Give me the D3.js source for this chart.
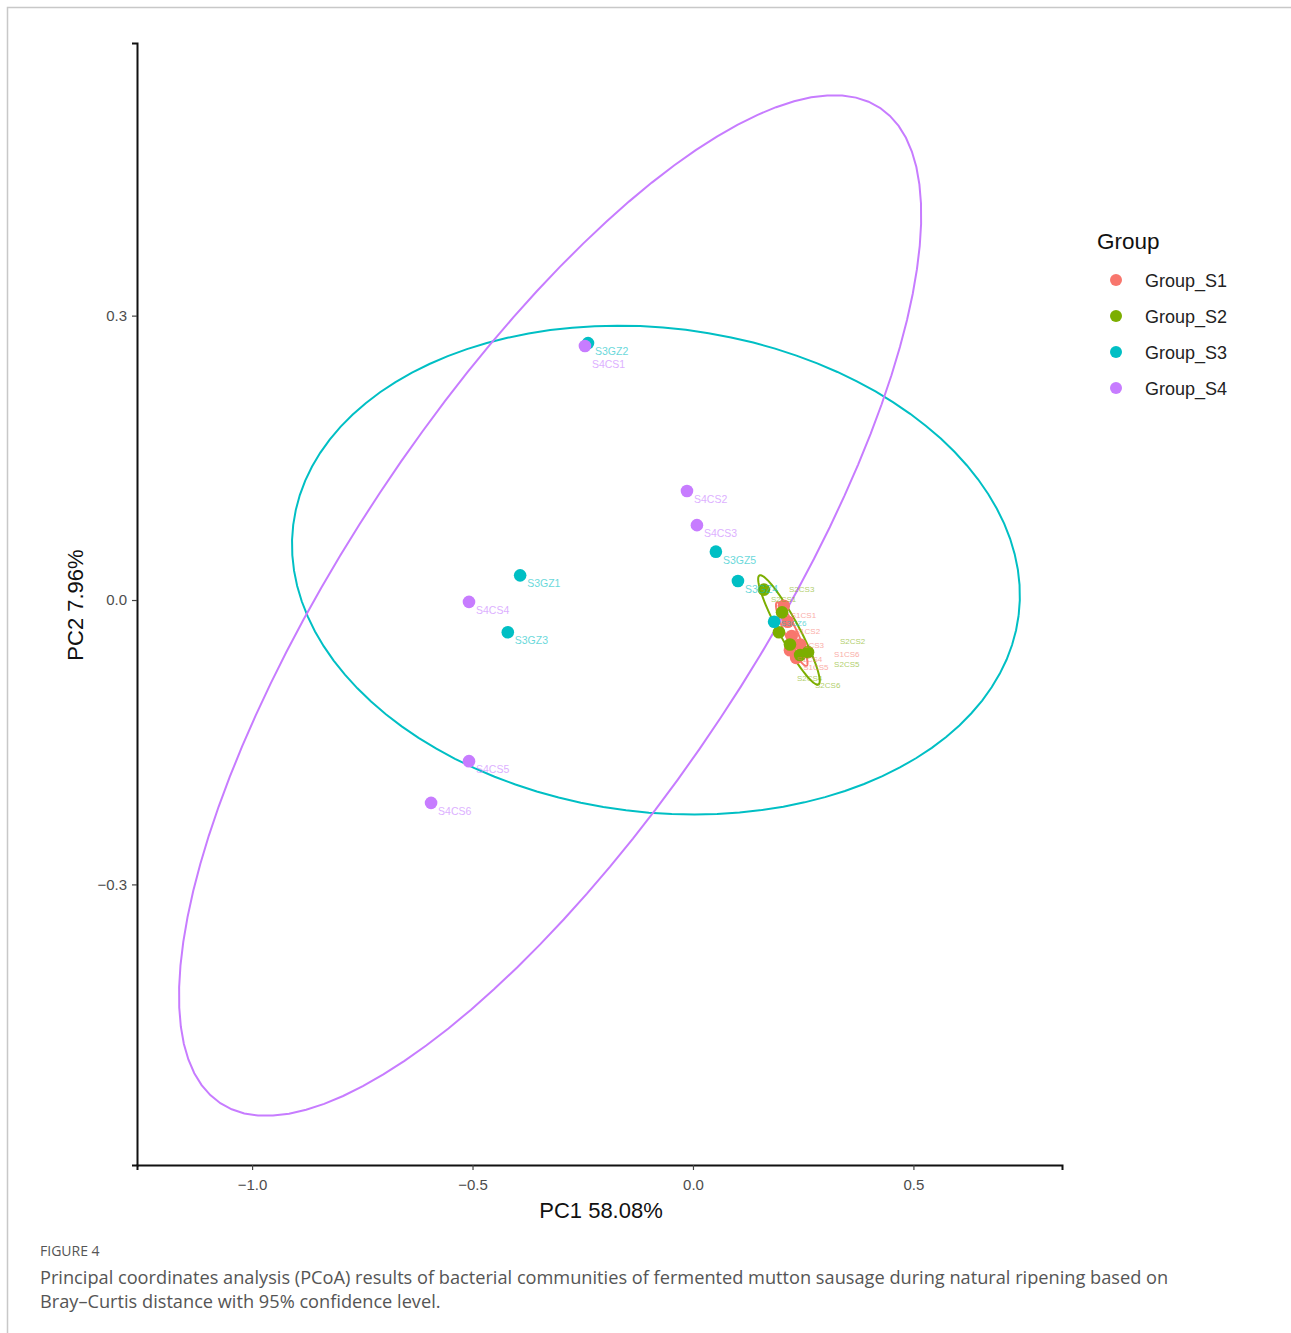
<!DOCTYPE html>
<html><head><meta charset="utf-8">
<script src="https://cdn.jsdelivr.net/npm/d3@7"></script>
<style>body{margin:0;background:#fff}</style>
</head><body>
<script>
// ---------- data ----------
const groups = ["Group_S1","Group_S2","Group_S3","Group_S4"];
const groupColors = ["#F8766D","#7CAE00","#00BFC4","#C77CFF"];
const s1Names = ["S1CS1","S1CS2","S1CS3","S1CS4","S1CS5","S1CS6"];
const s1PC1 = [0.206,0.215,0.224,0.220,0.234,0.243];
const s1PC2 = [-0.006,-0.023,-0.038,-0.053,-0.061,-0.047];
const s2Names = ["S2CS1","S2CS2","S2CS3","S2CS4","S2CS5","S2CS6"];
const s2PC1 = [0.161,0.195,0.202,0.220,0.243,0.261];
const s2PC2 = [0.011,-0.034,-0.013,-0.047,-0.058,-0.055];
const s3Names = ["S3GZ2","S3GZ1","S3GZ3","S3GZ5","S3GZ4","S3GZ6"];
const s3PC1 = [-0.238,-0.392,-0.420,0.052,0.102,0.184];
const s3PC2 = [0.271,0.026,-0.034,0.051,0.020,-0.023];
const s4Names = ["S4CS1","S4CS2","S4CS3","S4CS4","S4CS5","S4CS6"];
const s4PC1 = [-0.245,-0.0136,0.009,-0.508,-0.508,-0.594];
const s4PC2 = [0.268,0.115,0.079,-0.002,-0.170,-0.214];
// 95% confidence ellipses: centre and two conjugate semi-axis vectors (data units)
const ellCX = [0.224,0.2177,-0.084,-0.324];
const ellCY = [-0.036,-0.0316,0.0316,-0.0058];
const ellUX = [0.0336,0.0669,0.8227,0.748];
const ellUY = [-0.0334,-0.0575,-0.0477,0.525];
const ellVX = [-0.0122,-0.020,-0.0678,0.386];
const ellVY = [-0.0027,-0.005,-0.2534,-0.119];
const xTicks = [-1.0,-0.5,0.0,0.5];
const yTicks = [-0.3,0.0,0.3];
const xLabel = "PC1 58.08%";
const yLabel = "PC2 7.96%";
const legendTitle = "Group";
const figLabel = "FIGURE 4";
const captionLines = ["Principal coordinates analysis (PCoA) results of bacterial communities of fermented mutton sausage during natural ripening based on",
  "Bray\u2013Curtis distance with 95% confidence level."];

// ---------- build ----------
const W = 1291, H = 1333;
const svg = d3.select("body").append("svg").attr("width",W).attr("height",H);
const font = "'Liberation Sans', Arial, sans-serif";

// frame
svg.append("path").attr("d",`M7.5,${H} V7.5 H${W}`).attr("fill","none").attr("stroke","#c8c8c8").attr("stroke-width",1.5);

const x = d3.scaleLinear().domain([-1.261,0.837]).range([137,1062]);
const y = d3.scaleLinear().domain([-0.596,0.5876]).range([1165,43]);

const series = [
  {names:s1Names,px:s1PC1,py:s1PC2},
  {names:s2Names,px:s2PC1,py:s2PC2},
  {names:s3Names,px:s3PC1,py:s3PC2},
  {names:s4Names,px:s4PC1,py:s4PC2}
];

// ellipses
const ts = d3.range(0,101).map(i=>i/100*2*Math.PI);
const line = d3.line().x(d=>x(d[0])).y(d=>y(d[1]));
groups.forEach((g,i)=>{
  const pts = ts.map(t=>[ellCX[i]+ellUX[i]*Math.cos(t)+ellVX[i]*Math.sin(t),
                         ellCY[i]+ellUY[i]*Math.cos(t)+ellVY[i]*Math.sin(t)]);
  svg.append("path").attr("d",line(pts)).attr("fill","none")
    .attr("stroke",groupColors[i]).attr("stroke-width",2);
});

// points
series.forEach((s,i)=>{
  s.names.forEach((n,j)=>{
    svg.append("circle").attr("cx",x(s.px[j])).attr("cy",y(s.py[j])).attr("r",6.3)
      .attr("fill",groupColors[i]);
  });
});
// labels, placed next to their point with a simple greedy overlap avoidance
const placed = [];
const labelLayer = svg.append("g");
series.forEach((s,i)=>{
  s.names.forEach((n,j)=>{
    const px = x(s.px[j]), py = y(s.py[j]);
    const crowded = px > 750;
    const fs = crowded ? 8 : 10.5;
    const t = labelLayer.append("text").attr("font-family",font).attr("font-size",fs)
      .attr("fill",groupColors[i]).attr("opacity",0.6).text(n);
    const w = t.node().getComputedTextLength(), h = fs*0.75;
    const cands = [];
    [7,34,61].forEach(dx=>{ for(let k=-4; k<=4; k++) cands.push([dx,12+k*fs]); });
    cands.sort((a,b)=>(Math.abs(a[0]-7)*0.6+Math.abs(a[1]-12))-(Math.abs(b[0]-7)*0.6+Math.abs(b[1]-12)));
    let pick = [7,12];
    for (const o of cands) {
      const b = {x0:px+o[0], x1:px+o[0]+w, y0:py+o[1]-h, y1:py+o[1]+1};
      if (!placed.some(p=>b.x0<p.x1 && b.x1>p.x0 && b.y0<p.y1 && b.y1>p.y0)) { pick=o; break; }
    }
    placed.push({x0:px+pick[0], x1:px+pick[0]+w, y0:py+pick[1]-h, y1:py+pick[1]+1});
    t.attr("x",px+pick[0]).attr("y",py+pick[1]);
  });
});

// axes
const xAxis = svg.append("g").attr("transform","translate(0,1165)")
  .call(d3.axisBottom(x).tickValues(xTicks).tickSizeOuter(0).tickSize(5).tickPadding(9));
const yAxis = svg.append("g").attr("transform","translate(137,0)")
  .call(d3.axisLeft(y).tickValues(yTicks).tickSizeOuter(0).tickSize(5).tickPadding(5));
[xAxis,yAxis].forEach(a=>{
  a.select(".domain").attr("stroke","#111").attr("stroke-width",2);
  a.selectAll(".tick line").attr("stroke","#444").attr("stroke-width",1.2);
  a.selectAll(".tick text").attr("font-family",font).attr("font-size",15).attr("fill","#4d4d4d")
    .text(d=>d3.format(".1f")(d).replace("-","\u2212"));
});

svg.append("text").attr("x",601).attr("y",1218).attr("text-anchor","middle")
  .attr("font-family",font).attr("font-size",22).attr("fill","#111").text(xLabel);
svg.append("text").attr("transform","translate(83,605) rotate(-90)").attr("text-anchor","middle")
  .attr("font-family",font).attr("font-size",22).attr("fill","#111").text(yLabel);

// legend
svg.append("text").attr("x",1097).attr("y",249).attr("font-family",font).attr("font-size",22.5)
  .attr("fill","#111").text(legendTitle);
groups.forEach((g,i)=>{
  const cy = 280+i*36;
  svg.append("circle").attr("cx",1116).attr("cy",cy).attr("r",6).attr("fill",groupColors[i]);
  svg.append("text").attr("x",1145).attr("y",cy+6.5).attr("font-family",font).attr("font-size",18)
    .attr("fill","#222").text(g);
});

// caption
const capFont = "'Open Sans', Lato, sans-serif";
svg.append("text").attr("x",40).attr("y",1256).attr("font-family",capFont).attr("font-size",14)
  .attr("font-weight",500).attr("fill","#555").text(figLabel);
captionLines.forEach((l,i)=>{
  svg.append("text").attr("x",40).attr("y",1284+i*24).attr("font-family",capFont).attr("font-size",18.2)
    .attr("fill","#555").text(l);
});
</script>
</body></html>
